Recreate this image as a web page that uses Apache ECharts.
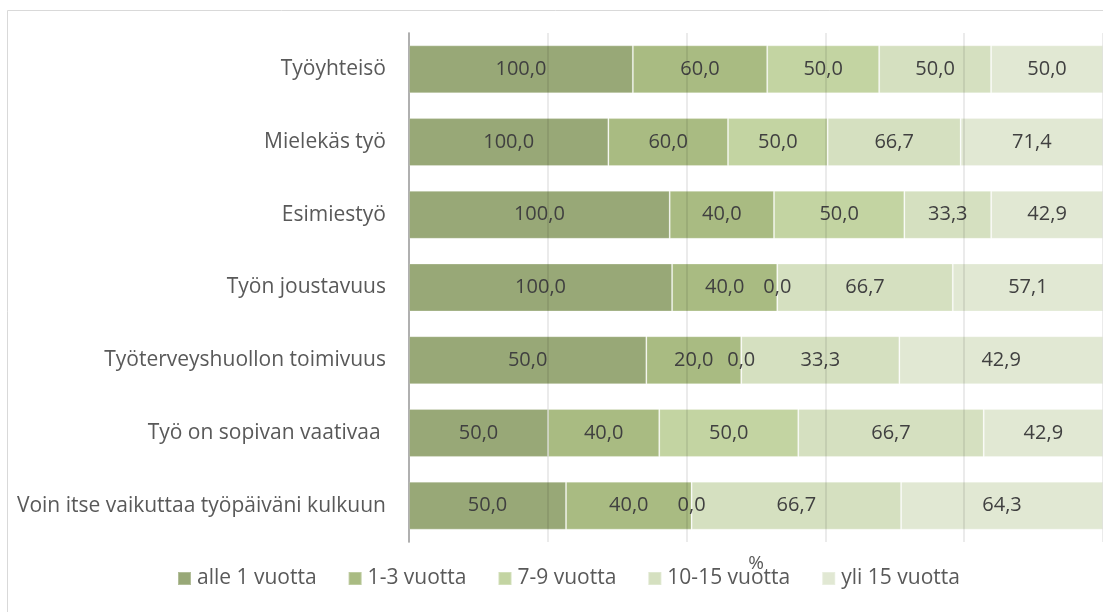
<!DOCTYPE html>
<html>
<head>
<meta charset="utf-8">
<script src="https://cdn.jsdelivr.net/npm/echarts@6/dist/echarts.min.js"></script>
<style>
  html, body { margin: 0; padding: 0; background: #fff; }
  #chart { width: 1103px; height: 612px; }
</style>
</head>
<body>
<div id="chart"></div>
<script>
  const categories = [
    "Työyhteisö",
    "Mielekäs työ",
    "Esimiestyö",
    "Työn joustavuus",
    "Työterveyshuollon toimivuus",
    "Työ on sopivan vaativaa ",
    "Voin itse vaikuttaa työpäiväni kulkuun"
  ];
  const seriesNames = ["alle 1 vuotta", "1-3 vuotta", "7-9 vuotta", "10-15 vuotta", "yli 15 vuotta"];
  const alle1 = [100, 100, 100, 100, 50, 50, 50];
  const v1to3 = [60, 60, 40, 40, 20, 40, 40];
  const v7to9 = [50, 50, 50, 0, 0, 50, 0];
  const v10to15 = [50, 66.7, 33.3, 66.7, 33.3, 66.7, 66.7];
  const yli15 = [50, 71.4, 42.9, 57.1, 42.9, 42.9, 64.3];
  const colors = ["#98a877", "#a9bb82", "#c3d4a2", "#d5e0c0", "#e1e8d3"];

  const raw = [alle1, v1to3, v7to9, v10to15, yli15];
  // 100 % stacked: each row is scaled to its own total
  const totals = categories.map((c, i) => raw.reduce((s, arr) => s + arr[i], 0));

  const chart = echarts.init(document.getElementById("chart"));
  const font = "'Open Sans', sans-serif";

  const series = raw.map((arr, k) => ({
    name: seriesNames[k],
    type: "bar",
    stack: "all",
    barWidth: 48,
    itemStyle: { color: colors[k], borderColor: "rgba(255,255,255,0.25)", borderWidth: 1 },
    label: {
      show: true,
      position: "inside",
      color: "#404040",
      fontFamily: font,
      fontSize: 20,
      formatter: (p) => arr[p.dataIndex].toFixed(1).replace(".", ",")
    },
    data: arr.map((v, i) => (v / totals[i]) * 100)
  }));

  chart.setOption({
    animation: false,
    textStyle: { fontFamily: font },
    graphic: [{
      type: "rect",
      shape: { x: 7.5, y: 10.5, width: 1200, height: 700 },
      style: { fill: "none", stroke: "#d9d9d9", lineWidth: 1 },
      silent: true
    }],
    grid: { left: 409, top: 33, width: 703, height: 509 },
    legend: {
      bottom: 18,
      left: 172,
      itemWidth: 13,
      itemHeight: 13,
      itemGap: 31,
      icon: "rect",
      textStyle: { color: "#595959", fontSize: 21, fontFamily: font, padding: [0, 0, 0, 1] },
      data: seriesNames
    },
    xAxis: {
      type: "value",
      min: 0,
      max: 100,
      interval: 20,
      z: 5,
      name: "%",
      nameLocation: "middle",
      nameGap: 12,
      nameTextStyle: { color: "#595959", fontSize: 19, fontFamily: font },
      axisLabel: { show: false },
      axisTick: { show: false },
      axisLine: { show: false },
      splitLine: { lineStyle: { color: "rgba(0,0,0,0.08)", width: 2 } }
    },
    yAxis: {
      type: "category",
      inverse: true,
      data: categories,
      axisTick: { show: false },
      axisLine: { lineStyle: { color: "#bfbfbf", width: 2 } },
      axisLabel: { color: "#595959", fontSize: 21, fontFamily: font, margin: 23 }
    },
    series: series
  });
</script>
</body>
</html>
